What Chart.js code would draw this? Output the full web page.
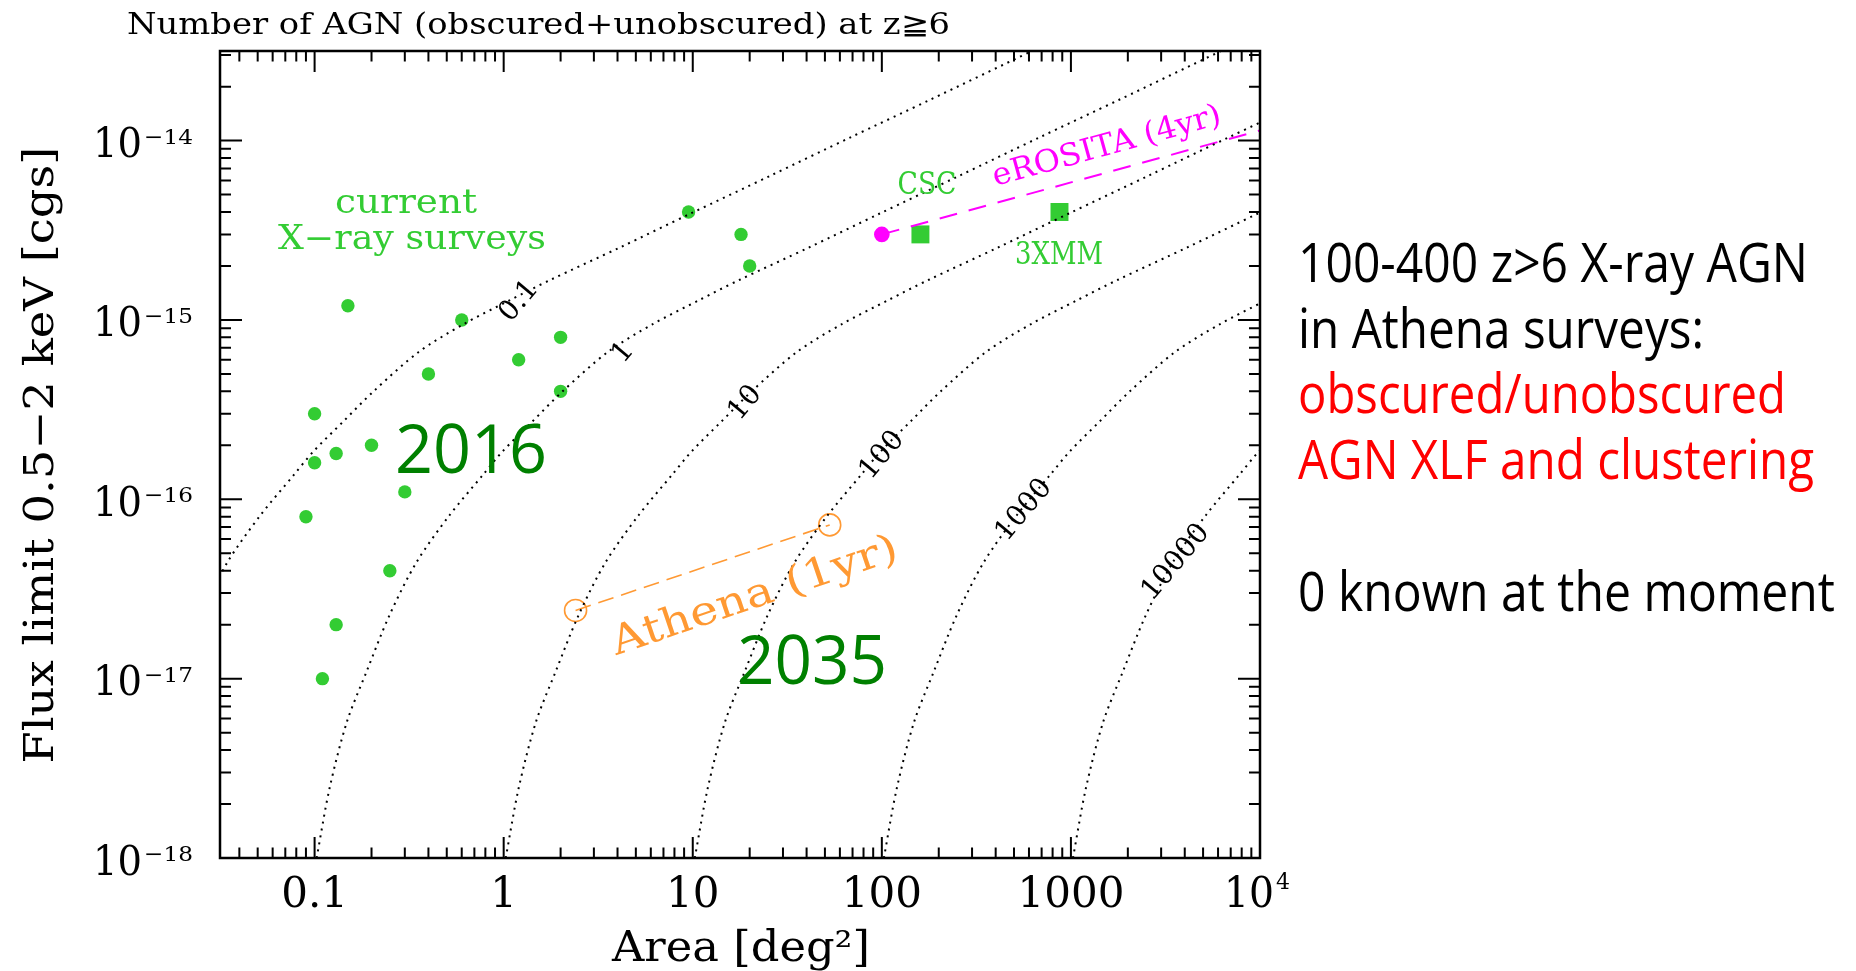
<!DOCTYPE html>
<html>
<head>
<meta charset="utf-8">
<script src="https://cdn.jsdelivr.net/npm/chart.js@4.4.1/dist/chart.umd.min.js"></script>
<style>
  html, body { margin: 0; padding: 0; background: #fff; }
  canvas { display: block; }
</style>
</head>
<body>
<canvas id="agn" width="1856" height="971"></canvas>
<script>
// axis ranges
const areaMin = 0.0316;
const areaMax = 1e4;
const fluxMin = 1e-18;
const fluxMax = 3.16e-14;

// tick labels
const xTickValues = [0.1, 1, 10, 100, 1000];
const xTickLabels = ['0.1', '1', '10', '100', '1000'];
const yTickExps = [-14, -15, -16, -17, -18];

// current X-ray surveys (deg2, cgs)
const surveyArea = [0.15, 0.6, 0.4, 1.2, 2, 2, 9.5, 0.1, 0.2, 18, 20, 0.1, 0.13, 0.3, 0.09, 0.25, 0.13, 0.11];
const surveyFlux = [1.2e-15, 1e-15, 5e-16, 6e-16, 8e-16, 4e-16, 4e-15, 3e-16, 2e-16, 3e-15, 2e-15, 1.6e-16, 1.8e-16, 1.1e-16, 8e-17, 4e-17, 2e-17, 1e-17];

// serendipitous catalogues: CSC, 3XMM
const catalogArea = [160, 870];
const catalogFlux = [3e-15, 4e-15];

// eROSITA (4yr)
const erositaArea = [100, 1e4];
const erositaFlux = [3e-15, 1.14e-14];

// Athena (1yr)
const athenaArea = [2.4, 53];
const athenaFlux = [2.4e-17, 7.2e-17];

// iso-number curves, N(z>=6 AGN); flux levels
const curveLevels = ['0.1', '1', '10', '100', '1000', '10000'];
const curveFlux = [1.0e-18, 2.45e-18, 5.72e-18, 1.09e-17, 2.26e-17, 4.46e-17, 8.15e-17, 1.36e-16, 1.85e-16, 2.72e-16, 4.0e-16,
                   6.61e-16, 9.46e-16, 1.29e-15, 1.67e-15, 2.54e-15, 3.91e-15, 6.37e-15, 1.04e-14, 1.69e-14, 3.16e-14];
const curve01Area = [0.0249, 0.0346, 0.0517, 0.0773, 0.0986, 0.142, 0.205, 0.354, 0.612, 1.08, 1.76, 4.13, 9.69, 25.7, 67.9, 180, 622];
const curve1Area = [0.1025, 0.120, 0.148, 0.188, 0.249, 0.346, 0.517, 0.773, 0.986, 1.42, 2.05, 3.54, 6.12, 10.8, 17.6, 41.3, 96.9, 257, 679, 1800, 6220];
const curve10Area = [1.025, 1.20, 1.48, 1.88, 2.49, 3.46, 5.17, 7.73, 9.86, 14.2, 20.5, 35.4, 61.2, 108, 176, 413, 969, 2570, 6790, 18000];
const curve100Area = [10.25, 12.0, 14.8, 18.8, 24.9, 34.6, 51.7, 77.3, 98.6, 142, 205, 354, 612, 1080, 1760, 4130, 9690, 25700];
const curve1000Area = [102.5, 120, 148, 188, 249, 346, 517, 773, 986, 1420, 2050, 3540, 6120, 10800];
const curve10000Area = [1025, 1200, 1480, 1880, 2490, 3460, 5170, 7730, 9860, 14200];

// where each curve label sits (area, flux)
const curveLabelArea = [1.21, 4.3, 19.0, 100.5, 566, 3597];
const curveLabelFlux = [1.27e-15, 6.57e-16, 3.44e-16, 1.76e-16, 8.7e-17, 4.47e-17];

const GREEN = '#33cc33';
const DARKGREEN = '#008000';
const ORANGE = '#ff9933';
const MAGENTA = '#ff00ff';
const SERIF = '"DejaVu Serif", "Liberation Serif", serif';
const SANS = '"Open Sans", "Noto Sans", sans-serif';

const pts = (xs, ys) => xs.map((x, i) => ({ x: x, y: ys[i] }));

// the 0.1 curve enters from the left edge, so its flux list starts further up
const curveSets = [
    [curve01Area, curveFlux.slice(4)],
    [curve1Area, curveFlux],
    [curve10Area, curveFlux],
    [curve100Area, curveFlux],
    [curve1000Area, curveFlux],
    [curve10000Area, curveFlux]
].map(([xs, ys], i) => ({
    label: 'N=' + curveLevels[i],
    data: pts(xs, ys),
    showLine: true,
    borderColor: '#000',
    borderWidth: 2,
    borderDash: [2, 5],
    tension: 0.3,
    pointRadius: 0
}));

// draw text, optionally stretched to a target width
function drawText(ctx, str, x, y, o) {
    ctx.save();
    ctx.translate(x, y);
    if (o.rot) ctx.rotate(o.rot * Math.PI / 180);
    ctx.font = o.font;
    ctx.fillStyle = o.color || '#000';
    ctx.textBaseline = o.baseline || 'alphabetic';
    ctx.textAlign = 'left';
    const w = ctx.measureText(str).width;
    const sx = o.width ? o.width / w : 1;
    ctx.scale(sx, 1);
    const align = o.align || 'left';
    const dx = align === 'center' ? -w / 2 : (align === 'right' ? -w : 0);
    ctx.fillText(str, dx, 0);
    ctx.restore();
}

const framePlugin = {
    id: 'pgframe',
    afterDraw(chart) {
        const ctx = chart.ctx;
        const a = chart.chartArea;
        const xs = chart.scales.x;
        const ys = chart.scales.y;

        // box
        ctx.save();
        ctx.strokeStyle = '#000';
        ctx.lineWidth = 2.5;
        ctx.strokeRect(a.left, a.top, a.right - a.left, a.bottom - a.top);

        // ticks on all four sides
        ctx.lineWidth = 2;
        ctx.beginPath();
        for (let d = -2; d <= 4; d++) {
            for (let k = 1; k <= 9; k++) {
                const v = k * Math.pow(10, d);
                if (v < areaMin || v > areaMax * 1.0001) continue;
                const px = xs.getPixelForValue(v);
                const len = k === 1 ? 21 : 10.5;
                ctx.moveTo(px, a.bottom); ctx.lineTo(px, a.bottom - len);
                ctx.moveTo(px, a.top); ctx.lineTo(px, a.top + len);
            }
        }
        for (let d = -18; d <= -14; d++) {
            for (let k = 1; k <= 9; k++) {
                const v = k * Math.pow(10, d);
                if (v < fluxMin * 0.9999 || v > fluxMax) continue;
                const py = ys.getPixelForValue(v);
                const len = k === 1 ? 22 : 11;
                ctx.moveTo(a.left, py); ctx.lineTo(a.left + len, py);
                ctx.moveTo(a.right, py); ctx.lineTo(a.right - len, py);
            }
        }
        ctx.stroke();
        ctx.restore();

        // x tick labels
        xTickValues.forEach((v, i) => {
            drawText(ctx, xTickLabels[i], xs.getPixelForValue(v), 907,
                { font: '42px ' + SERIF, align: 'center' });
        });
        const p4 = xs.getPixelForValue(areaMax);
        drawText(ctx, '10', p4 + 14, 907, { font: '42px ' + SERIF, align: 'right', width: 50 });
        drawText(ctx, '4', p4 + 16, 889, { font: '22px ' + SERIF });

        // y tick labels
        yTickExps.forEach(e => {
            const py = ys.getPixelForValue(Math.pow(10, e));
            drawText(ctx, '10', 142, py + 16.5, { font: '41px ' + SERIF, align: 'right', width: 49 });
            drawText(ctx, '\u2212' + String(-e), 144, py + 3, { font: '21px ' + SERIF, width: 49 });
        });

        // axis titles and header
        drawText(ctx, 'Area [deg\u00b2]', 741, 961, { font: '42px ' + SERIF, align: 'center', width: 258 });
        drawText(ctx, 'Flux limit 0.5\u22122 keV [cgs]', 53, 455,
            { font: '41px ' + SERIF, align: 'center', rot: -90, width: 617 });
        drawText(ctx, 'Number of AGN (obscured+unobscured) at z\u22676', 127, 34,
            { font: '29px ' + SERIF, width: 823 });

        // curve labels
        curveLevels.forEach((lab, i) => {
            const px = xs.getPixelForValue(curveLabelArea[i]);
            const py = ys.getPixelForValue(curveLabelFlux[i]);
            drawText(ctx, lab, px, py, { font: '28px ' + SERIF, align: 'center', baseline: 'middle', rot: -50 });
        });

        // annotations
        drawText(ctx, 'current', 406, 213, { font: '33px ' + SERIF, color: GREEN, align: 'center', width: 142 });
        drawText(ctx, 'X\u2212ray surveys', 412, 249, { font: '33px ' + SERIF, color: GREEN, align: 'center', width: 268 });
        drawText(ctx, 'CSC', 927, 194, { font: '31px ' + SERIF, color: GREEN, align: 'center', width: 59 });
        drawText(ctx, '3XMM', 1059, 264, { font: '31px ' + SERIF, color: GREEN, align: 'center', width: 88 });
        drawText(ctx, 'eROSITA (4yr)', 1107, 147,
            { font: '31px ' + SERIF, color: MAGENTA, align: 'center', baseline: 'middle', rot: -15.4, width: 236 });
        drawText(ctx, 'Athena (1yr)', 755, 597,
            { font: '40px ' + SERIF, color: ORANGE, align: 'center', baseline: 'middle', rot: -18.8, width: 300 });
        drawText(ctx, '2016', 395, 473, { font: '68px ' + SANS, color: DARKGREEN, width: 152 });
        drawText(ctx, '2035', 737, 684, { font: '68px ' + SANS, color: DARKGREEN, width: 150 });

        // side notes
        const notes = [
            ['100-400 z>6 X-ray AGN', 282, '#000', 510],
            ['in Athena surveys:', 348, '#000', 406],
            ['obscured/unobscured', 413, '#ff0000', 488],
            ['AGN XLF and clustering', 479, '#ff0000', 516],
            ['0 known at the moment', 611, '#000', 537]
        ];
        notes.forEach(([s, y, c, w]) => {
            drawText(ctx, s, 1298, y, { font: '55px ' + SANS, color: c, width: w });
        });
    }
};

new Chart(document.getElementById('agn').getContext('2d'), {
    type: 'scatter',
    data: {
        datasets: [
            ...curveSets,
            {
                label: 'Athena (1yr)',
                data: pts(athenaArea, athenaFlux),
                showLine: true,
                borderColor: ORANGE,
                borderWidth: 1.6,
                borderDash: [16, 8],
                pointStyle: 'circle',
                pointRadius: 11,
                pointBorderWidth: 1.6,
                pointBorderColor: ORANGE,
                pointBackgroundColor: 'rgba(0,0,0,0)'
            },
            {
                label: 'eROSITA (4yr)',
                data: pts(erositaArea, erositaFlux),
                showLine: true,
                borderColor: MAGENTA,
                borderWidth: 2,
                borderDash: [18, 12],
                pointRadius: [7.8, 0],
                pointBorderWidth: 0,
                pointBackgroundColor: MAGENTA
            },
            {
                label: 'current surveys',
                data: pts(surveyArea, surveyFlux),
                pointStyle: 'circle',
                pointRadius: 6.7,
                pointBorderWidth: 0,
                pointBackgroundColor: GREEN
            },
            {
                label: 'CSC / 3XMM',
                data: pts(catalogArea, catalogFlux),
                pointStyle: 'rect',
                pointRadius: 12.7,
                pointBorderWidth: 0,
                pointBackgroundColor: GREEN
            }
        ]
    },
    options: {
        responsive: false,
        animation: false,
        layout: { padding: { left: 220, top: 51, right: 596, bottom: 113 } },
        scales: {
            x: { type: 'logarithmic', min: areaMin, max: areaMax, display: false },
            y: { type: 'logarithmic', min: fluxMin, max: fluxMax, display: false }
        },
        plugins: {
            legend: { display: false },
            tooltip: { enabled: false }
        }
    },
    plugins: [framePlugin]
});
</script>
</body>
</html>
